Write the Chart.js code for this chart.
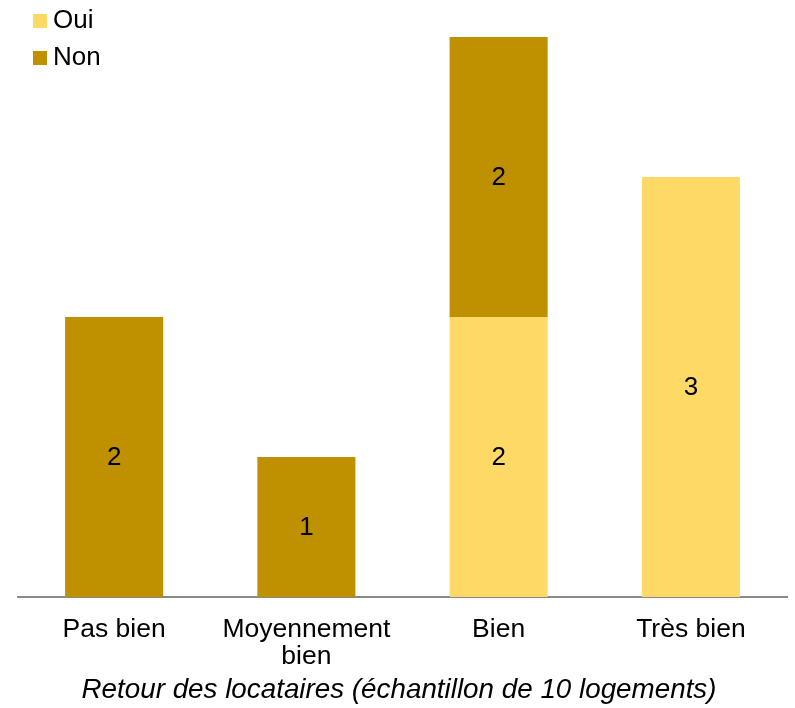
<!DOCTYPE html>
<html>
<head>
<meta charset="utf-8">
<script src="https://cdn.jsdelivr.net/npm/chart.js@4/dist/chart.umd.min.js"></script>
<style>
    html, body { margin: 0; padding: 0; background: #fff; }
    #wrap { width: 795px; height: 708px; }
</style>
</head>
<body>
<div id="wrap"><canvas id="retour"></canvas></div>
<script>
const categories = ["Pas bien", ["Moyennement", "bien"], "Bien", "Très bien"];
const ouiValues = [0, 0, 2, 3];
const nonValues = [2, 1, 2, 0];
const seriesNames = ["Oui", "Non"];
const seriesColors = ["#FFD966", "#BF9000"];
const axisTitle = "Retour des locataires (échantillon de 10 logements)";

const FONT = "Arial, 'Liberation Sans', sans-serif";

// numbers written in the middle of each stacked segment
const valueLabels = {
    id: 'valueLabels',
    afterDatasetsDraw(chart) {
        const ctx = chart.ctx;
        ctx.save();
        ctx.font = '26px ' + FONT;
        ctx.fillStyle = '#000';
        ctx.textAlign = 'center';
        ctx.textBaseline = 'middle';
        chart.data.datasets.forEach((ds, i) => {
            const meta = chart.getDatasetMeta(i);
            meta.data.forEach((bar, j) => {
                const v = ds.data[j];
                if (!v) return;
                const mid = (bar.y + bar.base) / 2;
                ctx.fillText(String(v), bar.x, mid + 1);
            });
        });
        ctx.restore();
    }
};

// small legend in the top-left corner, squares + names
const cornerLegend = {
    id: 'cornerLegend',
    afterDraw(chart) {
        const ctx = chart.ctx;
        ctx.save();
        ctx.font = '26px ' + FONT;
        ctx.textBaseline = 'middle';
        ctx.textAlign = 'left';
        chart.data.datasets.forEach((ds, i) => {
            const y = 21 + i * 37;
            ctx.fillStyle = ds.backgroundColor;
            ctx.fillRect(33, y - 7, 14, 14);
            ctx.fillStyle = '#000';
            ctx.fillText(ds.label, 53, y);
        });
        ctx.restore();
    }
};

// axis caption under the category labels
const bottomCaption = {
    id: 'bottomCaption',
    afterDraw(chart) {
        const ctx = chart.ctx;
        ctx.save();
        ctx.font = 'italic 27.8px ' + FONT;
        ctx.fillStyle = '#000';
        ctx.textAlign = 'center';
        ctx.textBaseline = 'middle';
        ctx.fillText(axisTitle, 399, 690);
        ctx.restore();
    }
};

new Chart('retour', {
    type: 'bar',
    data: {
        labels: categories,
        datasets: [
            { label: seriesNames[0], data: ouiValues, backgroundColor: seriesColors[0] },
            { label: seriesNames[1], data: nonValues, backgroundColor: seriesColors[1] }
        ]
    },
    options: {
        responsive: true,
        maintainAspectRatio: false,
        animation: false,
        layout: {
            padding: { top: 37, left: 18, right: 8, bottom: 27 }
        },
        datasets: {
            bar: { categoryPercentage: 0.51, barPercentage: 1 }
        },
        plugins: {
            legend: { display: false },
            tooltip: { enabled: false }
        },
        scales: {
            x: {
                stacked: true,
                grid: { display: false },
                border: { display: true, color: '#898989', width: 2 },
                ticks: {
                    color: '#000',
                    font: { family: FONT, size: 26.5, lineHeight: 1.02 },
                    padding: 11,
                    maxRotation: 0,
                    autoSkip: false
                }
            },
            y: {
                stacked: true,
                display: false,
                min: 0,
                max: 4
            }
        }
    },
    plugins: [valueLabels, cornerLegend, bottomCaption]
});
</script>
</body>
</html>
